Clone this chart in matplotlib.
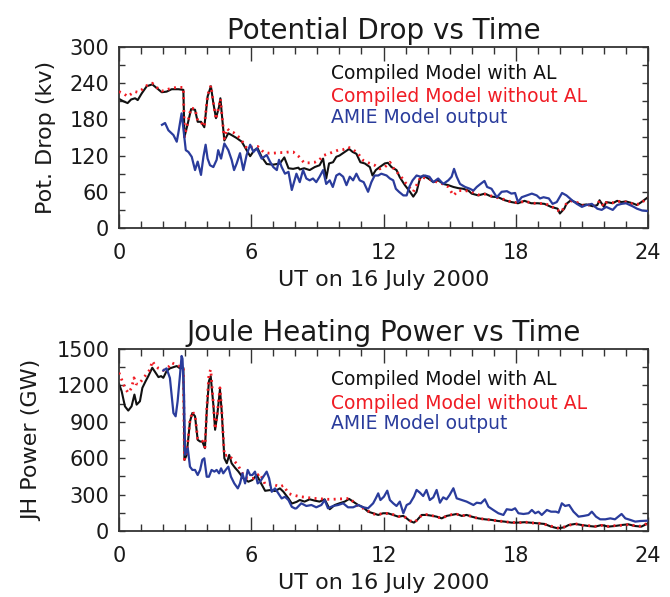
import matplotlib
matplotlib.use("Agg")
import matplotlib.pyplot as plt
from matplotlib.ticker import MultipleLocator

plt.rcParams['font.family'] = ['DejaVu Sans']

# ---------------- data ----------------
x_ticks = [0, 6, 12, 18, 24]
pd_ticks = [0, 60, 120, 180, 240, 300]
jh_ticks = [0, 300, 600, 900, 1200, 1500]
legend_labels = ["Compiled Model with AL", "Compiled Model without AL", "AMIE Model output"]

# Potential drop (kV): (UT hour, value)
pd_with_al = [(0.0,214),(0.2,210),(0.39,207),(0.55,213),(0.73,215),(0.85,212),(1.03,223),(1.26,235),(1.51,238),(1.71,232),
              (1.94,225),(2.16,226),(2.39,230),(2.69,230),(2.92,229),(2.97,151),(3.1,170),(3.27,197),(3.45,196),(3.57,176),
              (3.72,176),(3.87,167),(4.02,218),(4.17,235),(4.28,207),(4.4,182),(4.54,201),(4.6,215),(4.69,179),(4.78,145),
              (4.96,157),(5.11,154),(5.34,149),(5.57,143),(5.79,129),(5.95,119),(6.14,129),(6.29,132),(6.47,118),(6.7,106),
              (7.0,105),(7.3,107),(7.5,117),(7.69,99),(7.9,98),(8.14,100),(8.2,97),(8.4,99),(8.65,96),(8.88,101),
              (9.1,104),(9.26,115),(9.4,82),(9.53,107),(9.71,109),(9.86,118),(10.0,120),(10.24,126),(10.44,131),(10.6,126),
              (10.77,123),(10.95,109),(11.15,107),(11.38,101),(11.5,87),(11.65,96),(11.83,101),(12.06,107),(12.2,108),(12.36,101),
              (12.59,96),(12.74,84),(12.97,71),(13.2,60),(13.35,52),(13.5,60),(13.65,82),(13.8,87),(14.03,82),(14.26,76),
              (14.48,79),(14.71,73),(14.94,71),(15.17,68),(15.4,66),(15.62,65),(15.85,62),(16.0,57),(16.3,54),(16.6,57),
              (16.9,52),(17.2,51),(17.5,46),(17.8,43),(18.1,41),(18.4,45),(18.7,41),(19.0,41),(19.3,40),(19.6,35),
              (19.9,32),(20.0,24),(20.2,32),(20.3,40),(20.5,46),(20.8,41),(21.0,38),(21.2,39),(21.5,36),(21.7,38),
              (21.8,46),(22.0,35),(22.1,43),(22.4,41),(22.6,45),(22.8,43),(23.0,44),(23.3,41),(23.5,38),(23.7,43),(24.0,51)]

pd_without_al = [(0.0,226),(0.2,223),(0.39,218),(0.55,222),(0.73,226),(0.85,225),(1.03,229),(1.26,236),(1.51,240),(1.71,233),
                 (1.94,227),(2.16,229),(2.39,232),(2.69,233),(2.92,233),(2.97,151),(3.1,172),(3.27,199),(3.45,197),(3.57,178),
                 (3.72,175),(3.87,168),(4.02,220),(4.17,236),(4.28,208),(4.4,180),(4.54,203),(4.6,214),(4.69,180),(4.78,148),
                 (4.9,165),(5.04,160),(5.2,158),(5.4,152),(5.6,143),(5.8,132),(6.0,134),(6.3,135),(6.55,126),(6.8,124),
                 (7.0,124),(7.3,125),(7.5,125),(7.7,126),(7.9,126),(8.14,119),(8.4,108),(8.65,108),(8.88,109),(9.1,113),
                 (9.26,120),(9.5,123),(9.71,126),(9.94,129),(10.17,130),(10.4,134),(10.62,130),(10.85,123),(11.08,112),(11.38,107),
                 (11.6,104),(11.83,98),(12.06,101),(12.29,109),(12.5,96),(12.74,88),(12.97,76),(13.2,66),(13.35,60),(13.5,71),
                 (13.7,85),(13.95,82),(14.2,80),(14.48,75),(14.71,73),(14.94,68),(15.17,54),(15.4,62),(15.7,62),(16.0,60),
                 (16.3,55),(16.6,56),(16.9,53),(17.2,50),(17.5,47),(17.8,43),(18.1,42),(18.4,44),(18.7,42),(19.0,40),
                 (19.3,41),(19.6,36),(19.9,30),(20.0,26),(20.2,33),(20.3,41),(20.5,45),(20.8,42),(21.0,37),(21.2,40),
                 (21.5,35),(21.7,39),(21.8,45),(22.0,36),(22.1,42),(22.4,42),(22.6,44),(22.8,44),(23.0,43),(23.3,40),
                 (23.5,39),(23.7,42),(24.0,50)]

pd_amie = [(1.95,171),(2.09,174),(2.24,162),(2.47,154),(2.62,143),(2.69,157),(2.84,190),(2.92,165),(3.03,129),(3.15,126),
           (3.3,118),(3.45,96),(3.57,110),(3.72,88),(3.83,118),(3.93,138),(4.02,115),(4.13,104),(4.28,101),(4.43,113),
           (4.5,129),(4.63,115),(4.78,140),(4.96,129),(5.11,113),(5.22,96),(5.34,107),(5.49,124),(5.64,96),(5.79,121),
           (5.95,138),(6.1,126),(6.25,132),(6.47,115),(6.7,121),(6.85,110),(7.0,101),(7.16,96),(7.26,113),(7.38,101),
           (7.53,90),(7.69,93),(7.84,63),(7.99,82),(8.05,90),(8.2,76),(8.35,96),(8.5,82),(8.65,79),(8.8,82),
           (8.95,76),(9.1,85),(9.26,96),(9.4,73),(9.56,79),(9.7,68),(9.86,87),(10.0,90),(10.17,85),(10.32,71),
           (10.47,85),(10.62,79),(10.77,90),(10.92,79),(11.1,76),(11.3,60),(11.45,76),(11.6,87),(11.76,87),(11.9,90),
           (12.14,87),(12.29,82),(12.44,79),(12.56,65),(12.7,60),(12.9,54),(13.05,54),(13.17,68),(13.32,79),(13.5,87),
           (13.68,85),(13.88,87),(14.08,85),(14.26,76),(14.48,82),(14.71,73),(14.94,79),(15.09,85),(15.2,98),(15.32,85),
           (15.47,73),(15.7,68),(15.92,65),(16.08,62),(16.23,68),(16.4,73),(16.58,78),(16.7,68),(16.9,65),(17.14,51),
           (17.36,60),(17.6,61),(17.8,57),(17.97,58),(18.1,43),(18.27,51),(18.5,54),(18.73,57),(18.95,54),(19.1,49),
           (19.26,51),(19.5,49),(19.67,40),(19.86,43),(20.1,58),(20.3,54),(20.55,46),(20.77,40),(21.0,35),(21.2,38),
           (21.45,40),(21.7,32),(21.9,30),(22.1,35),(22.4,30),(22.6,38),(22.8,40),(23.0,41),(23.3,36),(23.5,32),
           (23.73,29),(24.0,28)]

# Joule heating power (GW): (UT hour, value)
jh_with_al = [(0.0,1213),(0.12,1152),(0.27,1027),(0.42,992),(0.57,1027),(0.7,1124),(0.8,1041),(0.95,1069),(1.06,1179),(1.21,1235),
              (1.33,1276),(1.51,1345),(1.66,1304),(1.79,1268),(1.91,1276),(2.01,1262),(2.16,1318),(2.31,1340),(2.47,1350),(2.62,1359),
              (2.77,1340),(2.92,1345),(2.97,585),(3.07,627),(3.22,903),(3.33,972),(3.45,945),(3.57,751),(3.68,737),(3.78,737),
              (3.9,682),(3.98,986),(4.08,1235),(4.16,1276),(4.28,1041),(4.36,834),(4.46,958),(4.58,1166),(4.66,986),(4.78,599),
              (4.89,558),(5.0,627),(5.11,558),(5.26,522),(5.42,489),(5.64,434),(5.87,406),(6.05,420),(6.25,461),(6.47,384),
              (6.63,331),(6.85,337),(7.08,329),(7.3,351),(7.46,323),(7.69,268),(7.84,226),(8.06,240),(8.2,255),(8.42,242),
              (8.65,261),(8.88,250),(9.1,242),(9.33,261),(9.56,179),(9.79,214),(10.0,228),(10.24,242),(10.44,264),(10.62,242),
              (10.85,214),(11.08,195),(11.3,159),(11.53,146),(11.76,132),(11.98,146),(12.2,146),(12.44,132),(12.67,118),(12.9,124),
              (13.05,104),(13.2,82),(13.38,69),(13.53,91),(13.73,132),(13.95,132),(14.18,126),(14.41,118),(14.64,104),(14.86,124),
              (15.09,132),(15.32,140),(15.55,124),(15.77,132),(16.0,118),(16.3,104),(16.6,96),(16.9,91),(17.2,82),(17.5,77),
              (17.8,69),(18.1,69),(18.4,72),(18.7,68),(19.0,63),(19.3,58),(19.6,36),(19.9,22),(20.2,30),(20.4,49),
              (20.7,58),(21.0,49),(21.3,41),(21.6,36),(21.9,49),(22.2,36),(22.5,41),(22.8,49),(23.1,55),(23.4,41),
              (23.7,36),(24.0,63)]

jh_without_al = [(0.0,1304),(0.12,1248),(0.27,1179),(0.42,1138),(0.57,1179),(0.68,1262),(0.77,1213),(0.88,1207),(1.03,1240),(1.18,1276),
                 (1.41,1331),(1.51,1400),(1.63,1367),(1.79,1340),(2.01,1323),(2.24,1350),(2.39,1386),(2.62,1367),(2.84,1350),(2.92,1345),
                 (2.97,590),(3.07,640),(3.22,910),(3.33,985),(3.45,950),(3.57,760),(3.68,745),(3.78,740),(3.9,690),(3.98,1000),
                 (4.08,1290),(4.16,1330),(4.28,1050),(4.36,840),(4.46,965),(4.58,1180),(4.66,1000),(4.78,620),(4.96,627),(5.18,586),
                 (5.39,544),(5.6,475),(5.82,434),(6.1,434),(6.4,475),(6.63,384),(6.85,384),(7.08,378),(7.3,365),(7.46,375),
                 (7.69,309),(7.9,296),(8.2,283),(8.5,277),(8.8,269),(9.1,266),(9.4,261),(9.7,261),(10.0,264),(10.3,266),
                 (10.47,269),(10.77,214),(11.08,187),(11.3,165),(11.53,140),(11.76,135),(11.98,146),(12.2,143),(12.44,135),(12.67,120),
                 (12.9,122),(13.05,106),(13.2,85),(13.38,72),(13.53,90),(13.73,130),(13.95,135),(14.18,128),(14.41,115),(14.64,106),
                 (14.86,122),(15.09,135),(15.32,138),(15.55,126),(15.77,130),(16.0,120),(16.3,102),(16.6,98),(16.9,88),(17.2,85),
                 (17.5,75),(17.8,72),(18.1,66),(18.4,74),(18.7,66),(19.0,65),(19.3,55),(19.6,40),(19.9,25),(20.2,33),
                 (20.4,46),(20.7,60),(21.0,46),(21.3,44),(21.6,38),(21.9,46),(22.2,38),(22.5,44),(22.8,47),(23.1,52),
                 (23.4,44),(23.7,38),(24.0,66)]

jh_amie = [(2.01,1323),(2.16,1340),(2.31,1260),(2.47,972),(2.57,945),(2.66,1069),(2.77,1290),(2.84,1442),(2.88,1420),(2.95,1124),
           (3.0,627),(3.12,682),(3.22,530),(3.33,503),(3.45,503),(3.57,461),(3.68,503),(3.78,586),(3.87,599),(3.98,447),
           (4.08,447),(4.2,503),(4.33,489),(4.43,503),(4.54,475),(4.63,516),(4.73,475),(4.84,503),(4.96,530),(5.08,447),
           (5.23,392),(5.39,351),(5.49,392),(5.6,475),(5.72,392),(5.84,503),(5.95,461),(6.05,461),(6.17,489),(6.29,392),
           (6.4,406),(6.55,447),(6.7,489),(6.81,434),(6.93,323),(7.08,351),(7.23,309),(7.38,268),(7.53,282),(7.69,254),
           (7.84,199),(7.99,185),(8.05,187),(8.27,228),(8.5,206),(8.73,214),(8.95,195),(9.18,214),(9.33,255),(9.48,187),
           (9.71,206),(9.94,214),(10.17,228),(10.39,195),(10.62,195),(10.85,214),(11.08,195),(11.3,187),(11.53,228),(11.65,269),
           (11.76,310),(11.86,255),(12.02,283),(12.17,332),(12.29,255),(12.44,228),(12.59,206),(12.74,242),(12.9,146),(13.05,214),
           (13.2,228),(13.38,283),(13.5,338),(13.65,316),(13.8,288),(13.95,338),(14.1,255),(14.26,277),(14.41,338),(14.56,233),
           (14.71,277),(14.86,261),(15.0,297),(15.17,352),(15.32,269),(15.55,255),(15.77,242),(15.92,228),(16.08,214),(16.23,233),
           (16.42,228),(16.6,261),(16.76,200),(16.98,173),(17.21,146),(17.44,132),(17.59,179),(17.82,173),(17.97,187),(18.12,146),
           (18.35,140),(18.58,146),(18.73,173),(18.88,146),(19.03,159),(19.18,132),(19.41,173),(19.6,159),(19.82,159),(19.94,151),
           (20.09,228),(20.24,206),(20.42,214),(20.62,159),(20.85,118),(21.08,124),(21.3,132),(21.45,159),(21.64,118),(21.83,96),
           (22.06,96),(22.29,104),(22.5,96),(22.8,140),(22.97,104),(23.2,91),(23.42,77),(23.65,82),(24.0,85)]

BLACK = '#111111'
RED = '#f01c24'
BLUE = '#2a3c9c'
AX = '#333333'
TXT = '#1a1a1a'


def unzip(pairs):
    return [p[0] for p in pairs], [p[1] for p in pairs]


def panel(ax, s_al, s_noal, s_amie, ymax, yticks, yminor, title, ylabel, leg_y):
    t, v = unzip(s_al)
    ax.plot(t, v, color=BLACK, lw=1.5, zorder=2)
    t, v = unzip(s_noal)
    ax.plot(t, v, color=RED, lw=2.0, linestyle=(0, (0.7, 1.6)), zorder=3)
    t, v = unzip(s_amie)
    ax.plot(t, v, color=BLUE, lw=1.6, zorder=4)
    ax.set_xlim(0, 24)
    ax.set_ylim(0, ymax)
    ax.set_xticks(x_ticks)
    ax.xaxis.set_minor_locator(MultipleLocator(1))
    ax.set_yticks(yticks)
    ax.yaxis.set_minor_locator(MultipleLocator(yminor))
    ax.tick_params(axis='both', which='both', direction='in', top=True, right=True,
                   color=AX, width=1.0, labelsize=15, labelcolor=TXT)
    ax.tick_params(axis='x', which='major', length=10, pad=11)
    ax.tick_params(axis='x', which='minor', length=5)
    ax.tick_params(axis='y', which='both', length=4, pad=7)
    for s in ax.spines.values():
        s.set_color(AX)
        s.set_linewidth(1.3)
    ax.set_title(title, fontsize=20, pad=6, color=TXT)
    ax.set_ylabel(ylabel, fontsize=16, labelpad=10, color=TXT)
    ax.set_xlabel("UT on 16 July 2000", fontsize=16, labelpad=5, color=TXT)
    for lab, col, yy in zip(legend_labels, [BLACK, RED, BLUE], leg_y):
        ax.text(0.40, yy, lab, transform=ax.transAxes, color=col, fontsize=13.5,
                ha='left', va='center')


fig = plt.figure(figsize=(6.7, 5.97), dpi=100)
ax1 = fig.add_axes([0.1776, 0.6181, 0.7896, 0.3032])
ax2 = fig.add_axes([0.1776, 0.1106, 0.7896, 0.3049])

panel(ax1, pd_with_al, pd_without_al, pd_amie, 300, pd_ticks, 30,
      "Potential Drop vs Time", "Pot. Drop (kv)", [0.856, 0.724, 0.608])
panel(ax2, jh_with_al, jh_without_al, jh_amie, 1500, jh_ticks, 150,
      "Joule Heating Power vs Time", "JH Power (GW)", [0.83, 0.703, 0.588])

fig.savefig("out.png", dpi=100)
